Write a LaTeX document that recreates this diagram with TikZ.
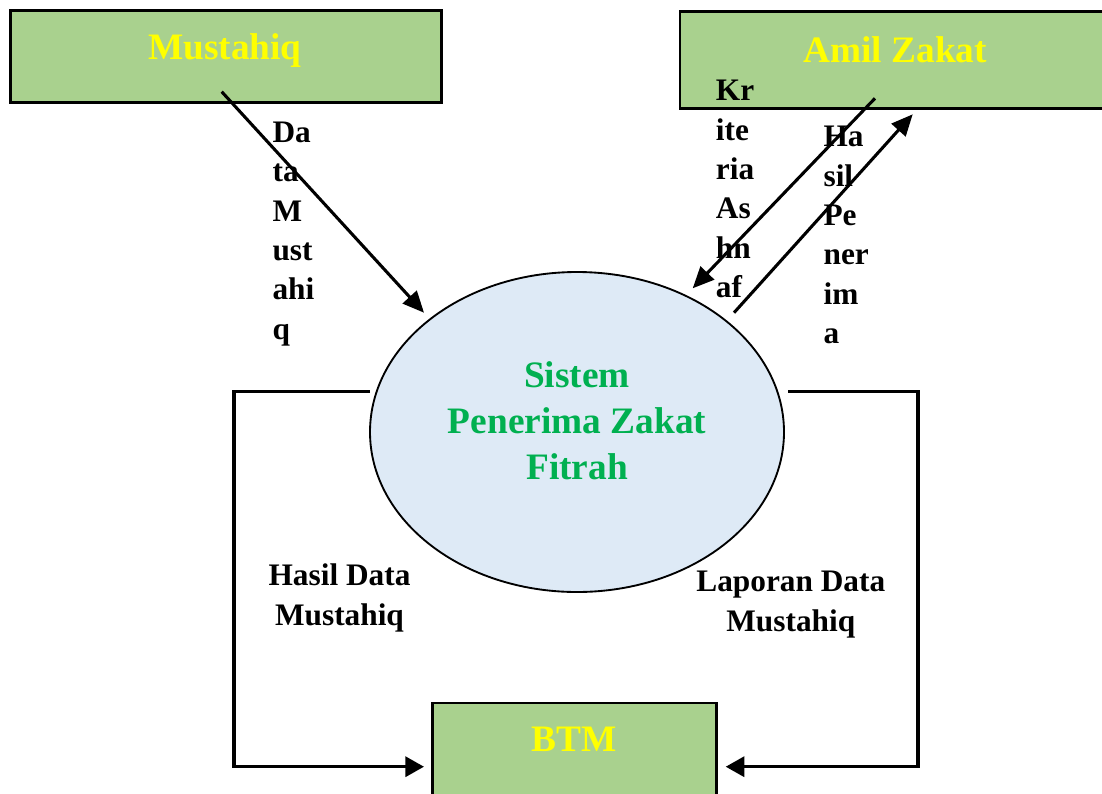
\documentclass[tikz,border=0pt]{standalone}
\usepackage{fontspec}
\setmainfont{Liberation Serif}
\usetikzlibrary{arrows.meta,shapes.geometric}
\definecolor{entitygreen}{HTML}{A9D18E}
\definecolor{processblue}{HTML}{DEEAF6}
\definecolor{processtext}{HTML}{00B050}
\definecolor{entitytext}{HTML}{FFFF00}
\begin{document}
\begin{tikzpicture}[x=0.75pt,y=-0.75pt,
  entity/.style={draw=black, line width=2pt, fill=entitygreen, inner sep=0pt},
  entitylabel/.style={font=\fontsize{28}{34}\selectfont\bfseries, text=entitytext, inner sep=0pt},
  process/.style={ellipse, draw=black, line width=1.4pt, fill=processblue, inner sep=0pt},
  processlabel/.style={font=\fontsize{28}{34.5}\selectfont\bfseries, text=processtext, align=center, inner sep=0pt},
  flowlabel/.style={font=\fontsize{23.5}{29.5}\selectfont\bfseries, align=center, inner sep=0pt},
  stacklabel/.style={font=\fontsize{23.5}{29.5}\selectfont\bfseries, align=left, inner sep=0pt, anchor=north west},
  flow/.style={line width=2.3pt, -{Triangle[length=16pt,width=14pt]}},
  loopflow/.style={line width=2.6pt, -{Triangle[length=14pt,width=15pt]}}
]
\useasboundingbox (0,0) rectangle (1102,793);
\clip (0,0) rectangle (1102,793);

% external entities
\node[entity, minimum width=323.25pt, minimum height=69pt] (mustahiq) at (225.8,56.5) {};
\node[entitylabel] (mustahiqT) at (225,50.5) {Mustahiq};
\node[entity, minimum width=326.25pt, minimum height=73pt] (amil) at (897.5,60) {};
\node[entitylabel] (amilT) at (895.2,49.5) {Amil Zakat};
\node[entity, minimum width=213pt, minimum height=80.25pt] (btm) at (574.3,756.5) {};
\node[entitylabel] (btmT) at (574.4,739.5) {BTM};

% central process
\node[process, minimum width=310.5pt, minimum height=240pt] (sys) at (577,432) {};
\node[processlabel] (sysT) at (577,420.5) {Sistem\\Penerima Zakat\\Fitrah};

% data flows between the entities and the process
\coordinate (mOut) at (221.7,91.7);
\coordinate (mIn)  at (424,312.7);
\coordinate (kOut) at (875,98.3);
\coordinate (kIn)  at (692.7,288.3);
\coordinate (hOut) at (734,312.7);
\coordinate (hIn)  at (912.7,114.3);
\draw[flow] (mOut) -- (mIn);
\draw[flow] (kOut) -- (kIn);
\draw[flow] (hOut) -- (hIn);

\coordinate (lOut) at (370,391.7);
\coordinate (lIn)  at (424,766.7);
\coordinate (rOut) at (788,391.7);
\coordinate (rIn)  at (725.7,766.7);
\draw[loopflow] (lOut) -- (234,391.7) -- (234,766.7) -- (lIn);
\draw[loopflow] (rOut) -- (918,391.7) -- (918,766.7) -- (rIn);

% flow labels
\node[stacklabel] (dataM) at (272.3,121.7) {Da\\ta\\M\\ust\\ahi\\q};
\node[stacklabel] (krit) at (715.7,80) {Kr\\ite\\ria\\As\\hn\\af};
\node[stacklabel] (hasilP) at (823.3,126) {Ha\\sil\\Pe\\ner\\im\\a};
\node[flowlabel] (hasilD) at (339.5,598) {Hasil Data\\Mustahiq};
\node[flowlabel] (lapD) at (790.8,604.5) {Laporan Data\\Mustahiq};
\end{tikzpicture}
\end{document}
